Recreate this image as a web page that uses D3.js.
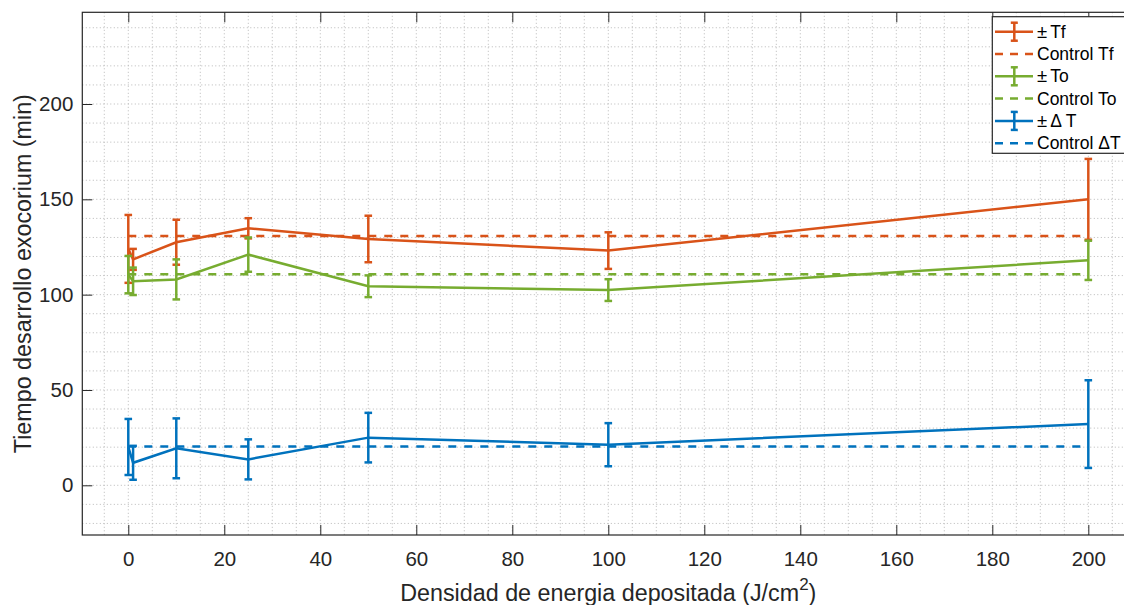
<!DOCTYPE html>
<html>
<head>
<meta charset="utf-8">
<script src="https://cdn.jsdelivr.net/npm/d3@7"></script>
<style>
  body { margin: 0; background: #fff; }
  svg { display: block; font-family: "Liberation Sans", Arial, sans-serif; }
</style>
</head>
<body>
<div id="chart"></div>
<script>
// x values (J/cm2)
const energia = [0, 1, 10, 25, 50, 100, 200];

// Tf
const tfMedia = [124, 118.5, 127.5, 134.8, 129.2, 123.1, 150];
const tfError = [17.8, 5.5, 11.8, 5.3, 12.2, 9.6, 21.2];
// To
const toMedia = [110.5, 107, 108, 121, 104.4, 102.4, 118];
const toError = [9.8, 7.2, 10.5, 9, 5.7, 5.7, 10.3];
// Delta T
const dtMedia = [20.1, 11.8, 19.4, 13.6, 25, 21.3, 32.1];
const dtError = [14.7, 8.9, 15.7, 10.5, 13, 11.3, 23];

// control values
const controlTf = 130.8;
const controlTo = 110.7;
const controlDt = 20.3;

const xTicks = [0, 20, 40, 60, 80, 100, 120, 140, 160, 180, 200];
const yTicks = [0, 50, 100, 150, 200];

// legend: [prefix symbol, rest]
const legendLabels = [['\u00B1', 'Tf'], ['', 'Control Tf'], ['\u00B1', 'To'], ['', 'Control To'], ['\u00B1', '\u0394 T'], ['', 'Control \u0394T']];

class ErrorbarChart {
    constructor(_config) {
        this.config = {
            parentElement: _config.parentElement,
            containerWidth: _config.containerWidth || 1124,
            containerHeight: _config.containerHeight || 605,
            margin: _config.margin || {top: 12.3, left: 82.3},
        }
        this.initVis();
    }
    initVis() {
        let vis = this;
        const m = vis.config.margin;

        // plot area runs past the right edge of the picture
        vis.width = 1052;
        vis.height = 522.7;

        vis.xScale = d3.scaleLinear()
            .domain([-9.58, 209.58])
            .range([0, vis.width]);
        vis.yScale = d3.scaleLinear()
            .domain([-26.07, 248.1])
            .range([vis.height, 0]);

        vis.svg = d3.select(vis.config.parentElement).append('svg')
            .attr('width', vis.config.containerWidth)
            .attr('height', vis.config.containerHeight);
        vis.visG = vis.svg.append('g')
            .attr('transform', `translate(${m.left},${m.top})`);

        vis.colors = {tf: '#D95319', to: '#77AC30', dt: '#0072BD'};
    }
    renderVis() {
        let vis = this;
        const g = vis.visG;
        const mLeft = vis.config.margin.left;

        // dotted grid every 5 on x and 10 on y
        const gx = d3.range(-5, 210, 5);
        const gy = d3.range(-20, 250, 10);
        g.append('g').selectAll('line').data(gx).join('line')
            .attr('x1', d => vis.xScale(d)).attr('x2', d => vis.xScale(d))
            .attr('y1', 0).attr('y2', vis.height)
            .attr('stroke', '#b8b8b8').attr('stroke-width', 1)
            .attr('stroke-dasharray', '1,2.5');
        g.append('g').selectAll('line').data(gy).join('line')
            .attr('y1', d => vis.yScale(d)).attr('y2', d => vis.yScale(d))
            .attr('x1', 0).attr('x2', vis.width)
            .attr('stroke', '#b8b8b8').attr('stroke-width', 1)
            .attr('stroke-dasharray', '1,2.5');

        // axes with inward ticks
        const xAxis = d3.axisBottom(vis.xScale).tickValues(xTicks).tickSize(-10).tickPadding(16.8);
        const xAxisTop = d3.axisTop(vis.xScale).tickValues(xTicks).tickSize(-10).tickFormat('');
        const yAxis = d3.axisLeft(vis.yScale).tickValues(yTicks).tickSize(-10).tickPadding(9);

        const xg = g.append('g').attr('transform', `translate(0,${vis.height})`).call(xAxis);
        const xgt = g.append('g').call(xAxisTop);
        const yg = g.append('g').call(yAxis);
        [xg, xgt, yg].forEach(a => {
            a.select('.domain').remove();
            a.selectAll('line').attr('stroke', '#262626');
            a.selectAll('text').attr('font-size', 20.5).attr('fill', '#262626')
                .attr('font-family', '"Liberation Sans", Arial, sans-serif');
        });

        // box
        g.append('rect')
            .attr('x', 0).attr('y', 0)
            .attr('width', vis.width).attr('height', vis.height)
            .attr('fill', 'none').attr('stroke', '#262626').attr('stroke-width', 1.2);

        // control lines
        const controls = [[controlTf, vis.colors.tf], [controlTo, vis.colors.to], [controlDt, vis.colors.dt]];
        const series = [
            [tfMedia, tfError, vis.colors.tf],
            [toMedia, toError, vis.colors.to],
            [dtMedia, dtError, vis.colors.dt]
        ];

        const line = d3.line()
            .x(d => vis.xScale(d[0]))
            .y(d => vis.yScale(d[1]));

        series.forEach((s, k) => {
            const [media, err, color] = s;
            const pts = energia.map((x, i) => [x, media[i], err[i]]);
            const sg = g.append('g');
            sg.append('path')
                .attr('d', line(pts))
                .attr('fill', 'none').attr('stroke', color).attr('stroke-width', 2.5);
            const bars = sg.selectAll('g.bar').data(pts).join('g').attr('class', 'bar');
            bars.append('line')
                .attr('x1', d => vis.xScale(d[0])).attr('x2', d => vis.xScale(d[0]))
                .attr('y1', d => vis.yScale(d[1] + d[2])).attr('y2', d => vis.yScale(d[1] - d[2]))
                .attr('stroke', color).attr('stroke-width', 2.5);
            [1, -1].forEach(sign => {
                bars.append('line')
                    .attr('x1', d => vis.xScale(d[0]) - 3.8).attr('x2', d => vis.xScale(d[0]) + 3.8)
                    .attr('y1', d => vis.yScale(d[1] + sign * d[2]))
                    .attr('y2', d => vis.yScale(d[1] + sign * d[2]))
                    .attr('stroke', color).attr('stroke-width', 2.5);
            });

            const [cv, cc] = controls[k];
            sg.append('line')
                .attr('x1', vis.xScale(0)).attr('x2', vis.xScale(200))
                .attr('y1', vis.yScale(cv)).attr('y2', vis.yScale(cv))
                .attr('stroke', cc).attr('stroke-width', 2.5)
                .attr('stroke-dasharray', '8,8');
        });

        // axis labels
        const xl = vis.svg.append('text')
            .attr('x', mLeft + vis.width / 2).attr('y', 600.5)
            .attr('text-anchor', 'middle').attr('font-size', 23.3).attr('fill', '#262626');
        xl.append('tspan').text('Densidad de energia depositada (J/cm');
        xl.append('tspan').text('2').attr('font-size', 17).attr('dy', -11);
        xl.append('tspan').text(')').attr('dy', 11);

        vis.svg.append('text')
            .attr('transform', `translate(30.5,${vis.config.margin.top + vis.height / 2}) rotate(-90)`)
            .attr('text-anchor', 'middle').attr('font-size', 23.3).attr('fill', '#262626')
            .text('Tiempo desarrollo exocorium (min)');

        // legend
        const lg = vis.svg.append('g');
        lg.append('rect')
            .attr('x', 992.3).attr('y', 16.7).attr('width', 160).attr('height', 136.6)
            .attr('fill', '#fff').attr('stroke', '#262626').attr('stroke-width', 1.2);
        const legendColors = [vis.colors.tf, vis.colors.tf, vis.colors.to, vis.colors.to, vis.colors.dt, vis.colors.dt];
        legendLabels.forEach((lab, i) => {
            const y = 31.7 + i * 22.3;
            const dashed = i % 2 === 1;
            lg.append('line')
                .attr('x1', 995).attr('x2', 1033).attr('y1', y).attr('y2', y)
                .attr('stroke', legendColors[i]).attr('stroke-width', 2.5)
                .attr('stroke-dasharray', dashed ? '8,7' : null);
            if (!dashed) {
                lg.append('line')
                    .attr('x1', 1014.3).attr('x2', 1014.3).attr('y1', y - 9).attr('y2', y + 9)
                    .attr('stroke', legendColors[i]).attr('stroke-width', 2.5);
                [-9, 9].forEach(o => {
                    lg.append('line')
                        .attr('x1', 1010.8).attr('x2', 1017.8).attr('y1', y + o).attr('y2', y + o)
                        .attr('stroke', legendColors[i]).attr('stroke-width', 2.5);
                });
            }
            const t = lg.append('text')
                .attr('x', 1037).attr('y', y).attr('dy', '0.35em')
                .attr('font-size', 17.5).attr('fill', '#000');
            if (lab[0]) {
                t.append('tspan').text(lab[0]).attr('font-size', 18.5);
                t.append('tspan').text(lab[1]).attr('dx', 3);
            } else {
                t.append('tspan').text(lab[1]);
            }
        });
    }
}

const chart = new ErrorbarChart({parentElement: '#chart'});
chart.renderVis();
</script>
</body>
</html>
